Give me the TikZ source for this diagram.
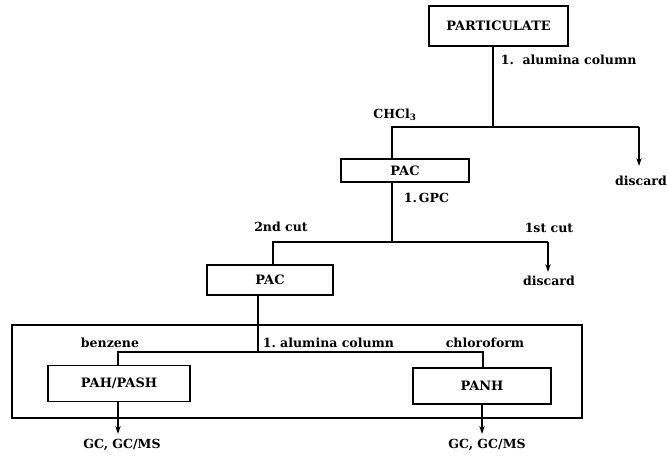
\documentclass[tikz,border=0pt]{standalone}
\usepackage{fontspec}
\setmainfont{DejaVu Serif}
\usetikzlibrary{arrows.meta}
\begin{document}
\begin{tikzpicture}[x=0.75pt,y=-0.75pt,
  line width=1.2pt,
  box/.style={draw,line width=1.3pt,minimum height=#1,inner sep=0pt,font=\bfseries\fontsize{9.7}{11}\selectfont},
  lbl/.style={inner sep=0pt,font=\bfseries\fontsize{9.4}{11}\selectfont},
  arr/.style={-{Stealth[length=6pt,width=4pt]}}]
\useasboundingbox (0,0) rectangle (668,459);
% boxes
\node[box=30pt,minimum width=104pt] (part) at (498.5,26) {PARTICULATE};
\node[box=17pt,minimum width=96pt] (pac1) at (405,170.5) {PAC};
\node[box=22pt,minimum width=94.5pt] (pac2) at (270,280) {PAC};
\node[box=27pt,minimum width=106.5pt] (pah) at (119,383.5) {PAH/PASH};
\node[box=27pt,minimum width=103.5pt] (panh) at (482,386) {PANH};
% enclosing frame
\draw[line width=1.4pt] (12,325) rectangle (582,418);
% coordinates
\coordinate (j1) at (493,127);
\coordinate (l1) at (392,127);
\coordinate (r1) at (639,127);
\coordinate (d1) at (639,166);
\coordinate (j2) at (392,242);
\coordinate (l2) at (273,242);
\coordinate (r2) at (548,242);
\coordinate (d2) at (548,272);
\coordinate (j3) at (258,352);
\coordinate (l3) at (118,352);
\coordinate (r3) at (483,352);
\coordinate (g1) at (118,434);
\coordinate (g2) at (482,434);
% connectors
\draw (part.south -| j1) -- (j1);
\draw (pac1.north -| l1) -- (l1) -- (r1);
\draw[arr] (r1) -- (d1);
\draw (pac1.south -| j2) -- (j2);
\draw (pac2.north -| l2) -- (l2) -- (r2);
\draw[arr] (r2) -- (d2);
\draw (pac2.south -| j3) -- (j3);
\draw (pah.north -| l3) -- (l3) -- (r3) -- (panh.north -| r3);
\draw[arr] (pah.south -| g1) -- (g1);
\draw[arr] (panh.south -| g2) -- (g2);
% labels
\node[lbl,anchor=west] (t1) at (500,60) {1.\ \ alumina column};
\node[lbl] (t2) at (395,115) {CHCl\textsubscript{3}};
\node[lbl] (t3) at (641,181) {discard};
\node[lbl,anchor=west] (t4) at (403,198) {1.\,GPC};
\node[lbl] (t5) at (281,227) {2nd cut};
\node[lbl] (t6) at (549,228) {1st cut};
\node[lbl] (t7) at (549,281) {discard};
\node[lbl] (t8) at (110,343) {benzene};
\node[lbl,anchor=west] (t9) at (262,343) {1.\ alumina column};
\node[lbl] (t10) at (485,343) {chloroform};
\node[lbl] (t11) at (122,445) {GC, GC/MS};
\node[lbl] (t12) at (487,445) {GC, GC/MS};
\end{tikzpicture}
\end{document}
